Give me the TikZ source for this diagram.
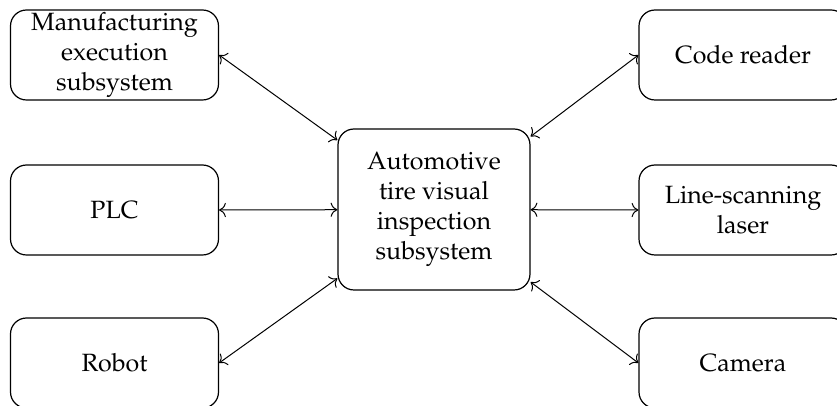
\documentclass[tikz,border=0pt]{standalone}
\usepackage[T1]{fontenc}
\usepackage{mathpazo}
\usetikzlibrary{arrows.meta}
\tikzset{
  unit/.style={draw, rounded corners=8pt, line width=0.6pt,
    minimum width=104pt, minimum height=45pt, align=center,
    inner ysep=1pt, font=\fontsize{12.5}{15}\selectfont},
  hub/.style={unit, minimum width=96pt, minimum height=80.5pt},
  link/.style={{Computer Modern Rightarrow[scale=1.25]}-{Computer Modern Rightarrow[scale=1.25]},
    line width=0.5pt}
}
\begin{document}
\begin{tikzpicture}
    \pgfsetxvec{\pgfpoint{0.5pt}{0}}
    \pgfsetyvec{\pgfpoint{0}{-0.5pt}}
    \useasboundingbox (0,0) rectangle (837,406);

    \node[hub] (avi) at (434,209.5) {Automotive\\tire visual\\inspection\\subsystem};
    \node[unit] (mes) at (114.5,55) {Manufacturing\\execution\\subsystem};
    \node[unit] (plc) at (114.5,210) {PLC};
    \node[unit] (robot) at (114.5,363) {Robot};
    \node[unit] (reader) at (743,55) {Code reader};
    \node[unit] (laser) at (743,210) {Line-scanning\\laser};
    \node[unit] (camera) at (743,363) {Camera};

    \foreach \n in {mes,plc,robot} {
      \draw[link] (\n.east) -- (avi);
    }
    \foreach \n in {reader,laser,camera} {
      \draw[link] (\n.west) -- (avi);
    }
\end{tikzpicture}
\end{document}
